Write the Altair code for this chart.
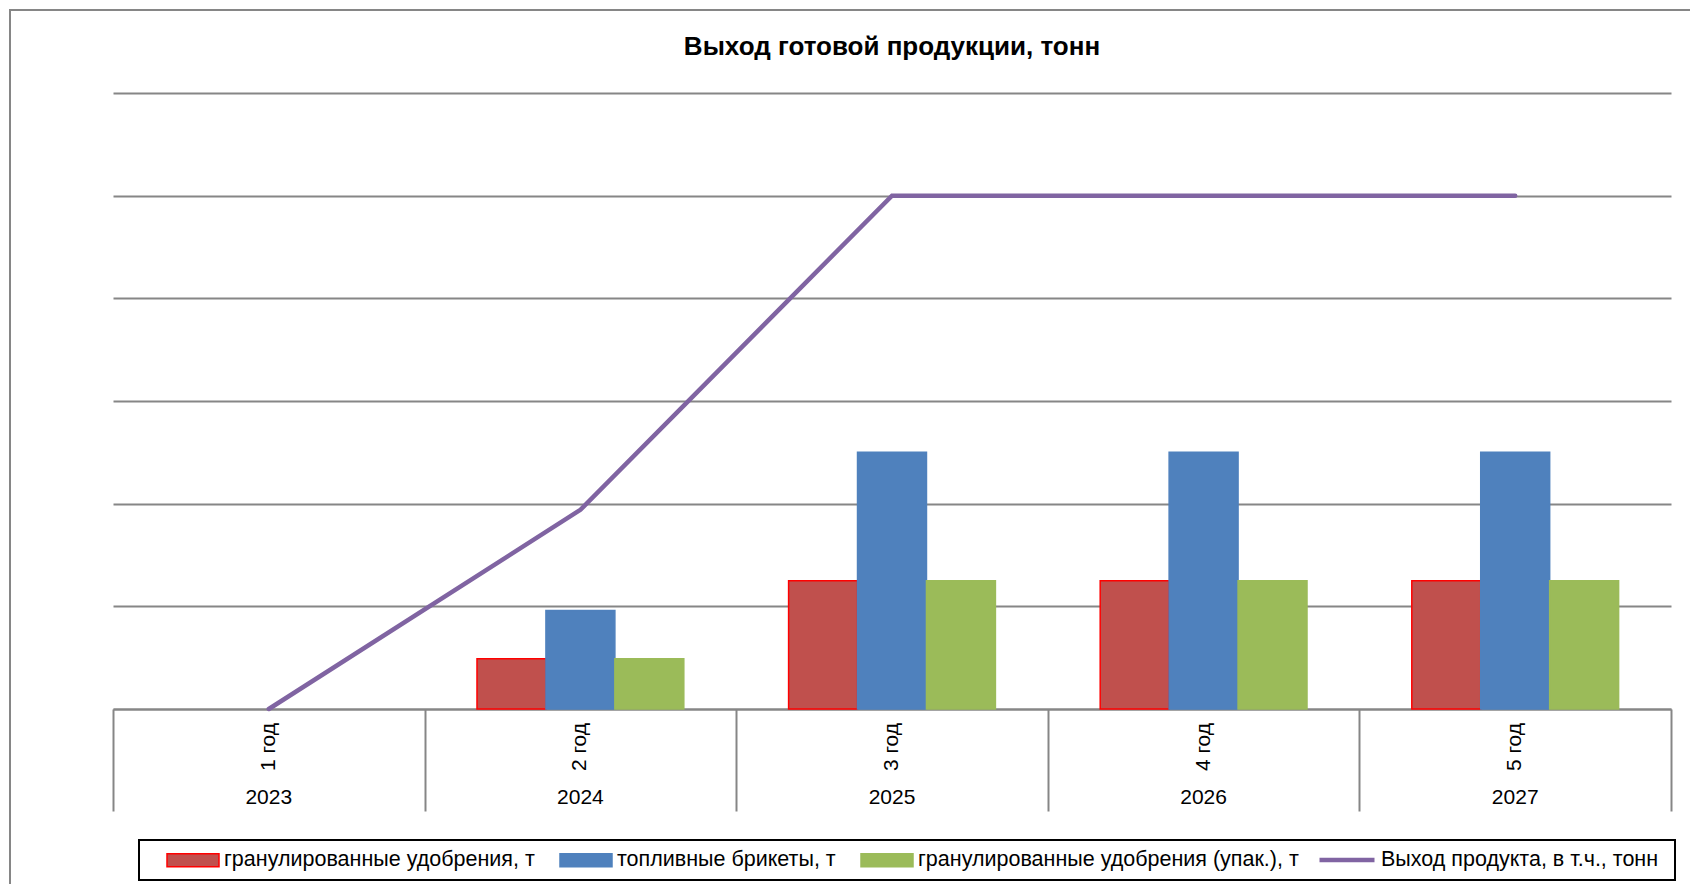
import altair as alt
import pandas as pd

# ---- data ----
periods = ["1 год", "2 год", "3 год", "4 год", "5 год"]
years = ["2023", "2024", "2025", "2026", "2027"]
series_bars = [
    "гранулированные удобрения, т",
    "топливные брикеты, т",
    "гранулированные удобрения (упак.), т",
]
series_line = "Выход продукта, в т.ч., тонн"
granulated = [0, 490, 1250, 1250, 1250]
briquettes = [0, 960, 2500, 2500, 2500]
granulated_packed = [0, 490, 1250, 1250, 1250]
total_output = [0, 1940, 5000, 5000, 5000]
grid_values = [0, 1000, 2000, 3000, 4000, 5000, 6000]

# ---- styles ----
FONT = "Liberation Sans"
GRID = "#868686"
bar_colors = ["#C0504D", "#4F81BD", "#9BBB59"]
bar_strokes = ["#FF0000", "#4F81BD", "#9BBB59"]
line_color = "#8064A2"
W, H = 1558, 616

rows = []
for i, y in enumerate(years):
    for s, vals in zip(series_bars, [granulated, briquettes, granulated_packed]):
        if vals[i] > 0:
            rows.append({"year": y, "series": s, "value": vals[i]})
bars_df = pd.DataFrame(rows)
line_df = pd.DataFrame(
    {"year": years, "period": periods, "value": total_output, "series": series_line}
)

x_enc = alt.X(
    "year:N",
    sort=years,
    scale=alt.Scale(paddingInner=0, paddingOuter=0),
    axis=alt.Axis(
        labels=False, title=None, grid=False,
        domainColor=GRID, domainWidth=2,
        tickColor=GRID, tickWidth=2, tickSize=102, tickBand="extent",
    ),
)
y_axis = alt.Axis(
    values=grid_values, labels=False, ticks=False, domain=False, title=None,
    grid=True, gridColor=GRID, gridWidth=2,
)
y_enc = alt.Y("value:Q", scale=alt.Scale(domain=[0, 6000], nice=False), axis=y_axis)

rect_path = "M-1,-0.25L1,-0.25L1,0.25L-1,0.25Z"
bar_legend = alt.Legend(
    orient="none", legendX=53, legendY=740, direction="horizontal", title=None,
    labelFont=FONT, labelFontSize=21.5, labelColor="black", labelLimit=0,
    symbolType=rect_path, symbolSize=2704, symbolStrokeWidth=1.5,
    symbolOpacity=1, labelOffset=4, columnPadding=22, padding=0,
)
line_legend = alt.Legend(
    orient="none", legendX=1204, legendY=737, direction="horizontal", title=None,
    labelFont=FONT, labelFontSize=21.5, labelColor="black", labelLimit=0,
    symbolType="stroke", symbolSize=3025, symbolStrokeWidth=4.5,
    symbolOpacity=1, labelOffset=4, padding=0,
)

frame = alt.Chart(pd.DataFrame({"k": [0]})).mark_rect(
    fillOpacity=0, stroke=GRID, strokeWidth=2
).encode(
    x=alt.value(-103), y=alt.value(-83), x2=alt.value(1700), y2=alt.value(900)
)

legend_box = alt.Chart(pd.DataFrame({"k": [0]})).mark_rect(
    fillOpacity=0, stroke="black", strokeWidth=2
).encode(
    x=alt.value(26), y=alt.value(747), x2=alt.value(1562), y2=alt.value(787)
)

bars = alt.Chart(bars_df).mark_bar(strokeWidth=1.5).encode(
    x=x_enc,
    y=y_enc,
    xOffset=alt.XOffset(
        "series:N", sort=series_bars,
        scale=alt.Scale(paddingInner=0, paddingOuter=0.76),
    ),
    fill=alt.Fill("series:N", sort=series_bars,
                  scale=alt.Scale(domain=series_bars, range=bar_colors),
                  legend=bar_legend),
    stroke=alt.Stroke("series:N", sort=series_bars,
                      scale=alt.Scale(domain=series_bars, range=bar_strokes),
                      legend=bar_legend),
)

line = alt.Chart(line_df).mark_line(strokeWidth=4.5, strokeCap="round").encode(
    x=x_enc,
    y=y_enc,
    color=alt.Color("series:N",
                    scale=alt.Scale(domain=[series_line], range=[line_color]),
                    legend=line_legend),
)

period_text = alt.Chart(line_df).mark_text(
    angle=270, align="center", baseline="middle", font=FONT, fontSize=21, color="black"
).encode(x=x_enc, y=alt.value(654), text="period:N")

year_text = alt.Chart(line_df).mark_text(
    align="center", baseline="middle", font=FONT, fontSize=21, color="black"
).encode(x=x_enc, y=alt.value(705), text="year:N")

chart = alt.layer(
    frame, legend_box, bars, line, period_text, year_text
).resolve_scale(
    fill="independent", stroke="independent", color="independent"
).properties(
    width=W, height=H,
    title=alt.Title(
        "Выход готовой продукции, тонн", font=FONT, fontSize=26, fontWeight="bold",
        color="black", anchor="middle", frame="group", baseline="middle", offset=-64,
    ),
    autosize=alt.AutoSizeParams(type="none"),
    padding={"left": 105, "top": 85, "right": 19, "bottom": 175},
    background="white",
).configure_view(strokeWidth=0)

chart.save("out.html", embed_options={"renderer": "svg", "actions": False})
